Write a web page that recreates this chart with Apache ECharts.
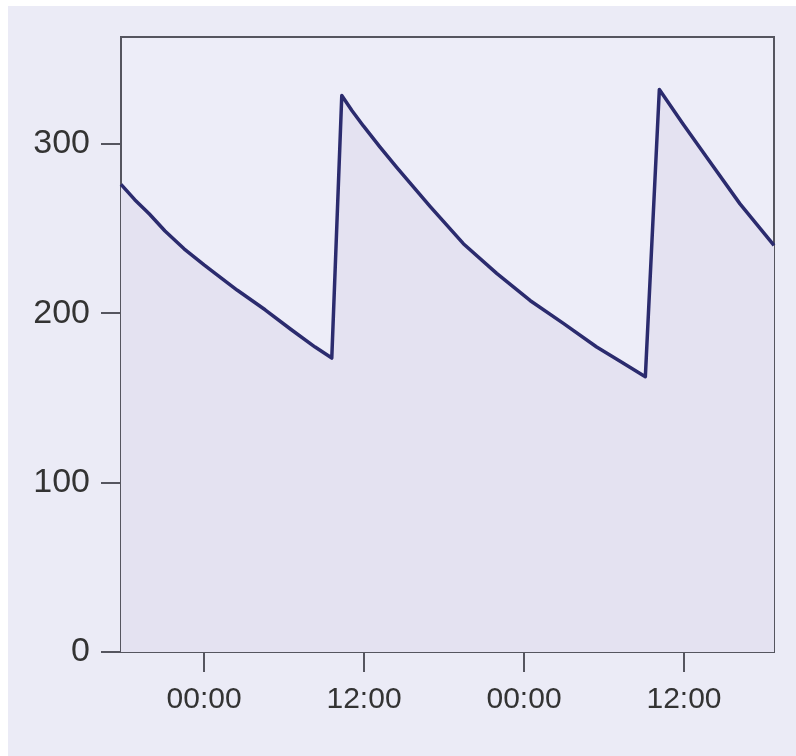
<!DOCTYPE html>
<html>
<head>
<meta charset="utf-8">
<script src="https://cdn.jsdelivr.net/npm/echarts@6.0.0/dist/echarts.min.js"></script>
<style>
  html, body { margin: 0; padding: 0; background: #ffffff; }
  #main { position: absolute; left: 8px; top: 6px; width: 788px; height: 750px; }
</style>
</head>
<body>
<div id="main"></div>
<script>
// sample times, in hours from the first midnight, and measured level
var hours = [
    -6.23, -5.2, -4.1, -2.93, -1.5, 0,
    0.83, 2.5, 4.58, 6.5,
    8.33, 9.58, 10.33, 11.1, 11.95, 13.2,
    14.45, 16.95, 19.45, 21.95,
    24.45, 26.95, 29.45, 31.33,
    33.1, 34.15, 35.9, 37.7, 40.2,
    42.75
];
var levels = [
    276, 267, 258.5, 248.5, 238, 228.5,
    223.5, 213.5, 202, 190.5,
    180, 173.5, 328.5, 319.5, 310.5, 298,
    286, 263, 241, 223.5,
    207.5, 194, 180, 171,
    162.5, 332, 312, 292, 264.5,
    240
];
var xTicks = [0, 12, 24, 36];
var xTickLabels = ['00:00', '12:00', '00:00', '12:00'];
var yTicks = [0, 100, 200, 300];

var seriesData = [];
for (var i = 0; i < hours.length; i++) {
    seriesData.push([hours[i], levels[i]]);
}

var myChart = echarts.init(document.getElementById('main'));

var axisGray = '#55555f';
var labelGray = '#333333';

var option = {
    backgroundColor: '#ebebf6',
    animation: false,
    grid: {
        left: 113,
        right: 22,
        top: 31,
        bottom: 104,
        show: true,
        backgroundColor: '#ededf8',
        borderColor: axisGray,
        borderWidth: 2
    },
    xAxis: {
        type: 'value',
        min: -6.23,
        max: 42.75,
        axisLine: { show: true, onZero: false, lineStyle: { color: axisGray, width: 2 } },
        axisTick: {
            show: true,
            length: 20,
            customValues: xTicks,
            lineStyle: { color: axisGray, width: 2 }
        },
        axisLabel: {
            customValues: xTicks,
            margin: 33,
            fontSize: 30,
            fontFamily: 'Liberation Sans',
            color: labelGray,
            formatter: function (v) {
                return xTickLabels[xTicks.indexOf(v)];
            }
        },
        splitLine: { show: false }
    },
    yAxis: {
        type: 'value',
        min: 0,
        max: 363,
        axisLine: { show: true, onZero: false, lineStyle: { color: axisGray, width: 2 } },
        axisTick: {
            show: true,
            length: 20,
            customValues: yTicks,
            lineStyle: { color: axisGray, width: 2 }
        },
        axisLabel: {
            customValues: yTicks,
            margin: 31,
            fontSize: 34,
            fontFamily: 'Liberation Sans',
            color: labelGray
        },
        splitLine: { show: false }
    },
    series: [{
        type: 'line',
        data: seriesData,
        showSymbol: false,
        lineStyle: { color: '#2b2b6e', width: 3.5, join: 'round' },
        itemStyle: { color: '#2b2b6e' },
        areaStyle: { color: '#e4e2f1', opacity: 1 }
    }]
};

myChart.setOption(option);
</script>
</body>
</html>
